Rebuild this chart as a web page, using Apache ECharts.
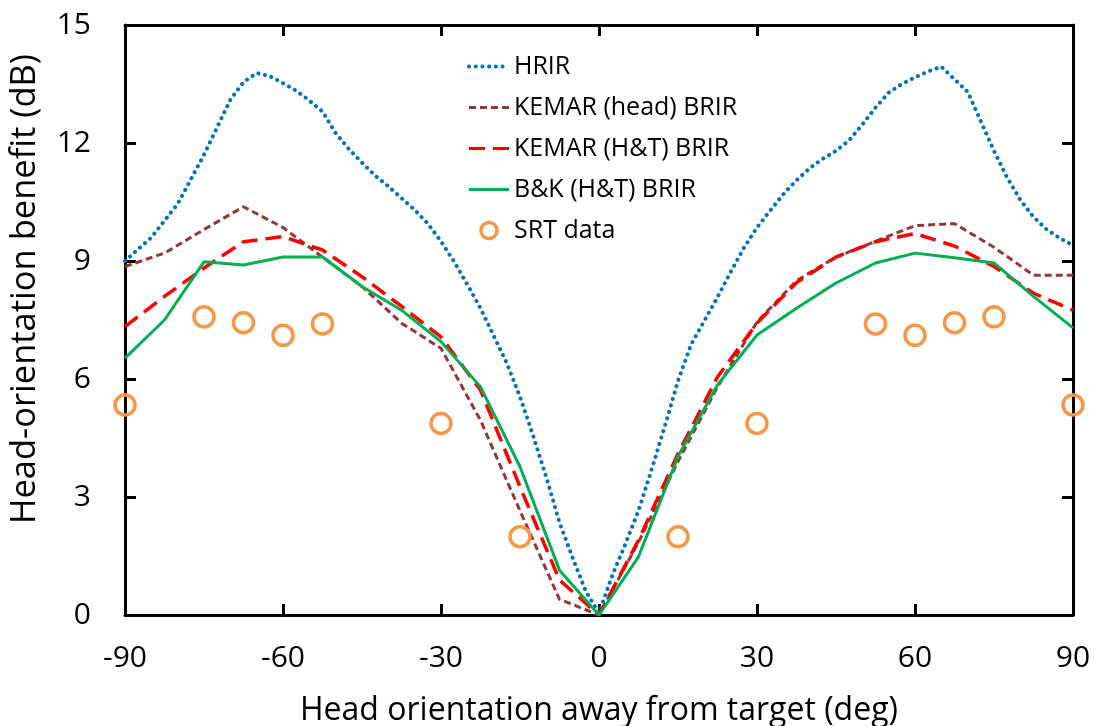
<!DOCTYPE html>
<html>
<head>
<meta charset="utf-8">
<script src="https://cdn.jsdelivr.net/npm/echarts@6/dist/echarts.min.js"></script>
<style>
  html, body { margin: 0; padding: 0; background: #fff; }
  #chart { width: 1101px; height: 726px; }
</style>
</head>
<body>
<div id="chart"></div>
<script>
// Head orientation (deg) for the HRIR curve
const hrirAngles = [-90, -85, -80, -75, -72.5, -70, -67.5, -65, -62.5, -60, -57.5, -55, -52.5, -50, -47.5, -45,
  -42.5, -40, -37.5, -35, -32.5, -30, -27.5, -25, -22.5, -20, -17.5, -15, -12.5, -10, -7.5, -5, -2.5, 0,
  2.5, 5, 7.5, 10, 12.5, 15, 17.5, 20, 22.5, 25, 27.5, 30, 32.5, 35, 37.5, 40, 42.5, 45, 47.5, 50,
  52.5, 55, 57.5, 60, 62.5, 65, 67.5, 70, 72.5, 75, 77.5, 80, 82.5, 85, 87.5, 90];
const hrirValues = [9.0, 9.6, 10.45, 11.7, 12.4, 13.1, 13.55, 13.78, 13.7, 13.52, 13.33, 13.08, 12.8, 12.25, 11.85, 11.5,
  11.17, 10.9, 10.6, 10.3, 9.95, 9.5, 8.98, 8.4, 7.8, 7.1, 6.4, 5.55, 4.55, 3.5, 2.35, 1.45, 0.6, 0.05,
  1.0, 1.8, 2.65, 3.7, 4.8, 5.95, 6.88, 7.48, 8.08, 8.72, 9.33, 9.85, 10.28, 10.7, 11.05, 11.36, 11.6, 11.8, 12.07, 12.47,
  12.9, 13.28, 13.5, 13.67, 13.82, 13.94, 13.62, 13.3, 12.55, 11.8, 11.12, 10.55, 10.12, 9.8, 9.58, 9.4];

// Head orientation (deg) for the BRIR curves
const brirAngles = [-90, -82.5, -75, -67.5, -60, -52.5, -45, -37.5, -30, -22.5, -15, -7.5, 0,
  7.5, 15, 22.5, 30, 37.5, 45, 52.5, 60, 67.5, 75, 82.5, 90];
const kemarHeadValues = [8.86, 9.2, 9.8, 10.38, 9.85, 9.1, 8.35, 7.42, 6.78, 4.95, 2.65, 0.4, 0,
  1.85, 3.9, 5.8, 7.45, 8.5, 9.1, 9.5, 9.9, 9.95, 9.35, 8.64, 8.64];
const kemarHTValues = [7.33, 8.1, 8.82, 9.49, 9.62, 9.28, 8.6, 7.85, 7.07, 5.72, 3.26, 0.89, 0,
  1.9, 4.1, 6.05, 7.42, 8.45, 9.1, 9.49, 9.7, 9.38, 8.86, 8.18, 7.75];
const bkHTValues = [6.53, 7.5, 8.98, 8.9, 9.1, 9.1, 8.35, 7.75, 6.95, 5.8, 3.77, 1.14, 0,
  1.48, 4.03, 5.85, 7.12, 7.8, 8.44, 8.95, 9.2, 9.08, 8.95, 8.1, 7.3];

// Speech reception threshold measurements
const srtAngles = [-90, -75, -67.5, -60, -52.5, -30, -15, 15, 30, 52.5, 60, 67.5, 75, 90];
const srtValues = [5.34, 7.58, 7.43, 7.11, 7.4, 4.87, 1.99, 1.99, 4.87, 7.4, 7.11, 7.43, 7.58, 5.34];

const xTicks = [-90, -60, -30, 0, 30, 60, 90];
const yTicks = [0, 3, 6, 9, 12, 15];

const seriesNames = ['HRIR', 'KEMAR (head) BRIR', 'KEMAR (H&T) BRIR', 'B&K (H&T) BRIR', 'SRT data'];

const pair = (xs, ys) => xs.map((x, i) => [x, ys[i]]);
const FONT = '"Open Sans", sans-serif';

const chart = echarts.init(document.getElementById('chart'), null, { renderer: 'canvas' });

const frameLine = { show: true, onZero: false, lineStyle: { color: '#000', width: 3 } };
const innerTick = { show: true, inside: true, length: 11, lineStyle: { color: '#000', width: 3 } };

// legend entries: line series show only their stroke, no marker
const legendData = seriesNames.map((name, i) =>
  i < 4
    ? { name, itemStyle: { opacity: 0 }, lineStyle: { width: i === 0 ? 4 : 3 } }
    : { name, itemStyle: { borderWidth: 3.5 } });

chart.setOption({
  backgroundColor: '#fff',
  animation: false,
  grid: { left: 125, right: 28, top: 25, bottom: 111, containLabel: false, outerBoundsMode: 'none' },
  legend: {
    orient: 'vertical',
    left: 462,
    top: 49,
    padding: 5,
    itemWidth: 40,
    itemHeight: 16,
    itemGap: 16,
    data: legendData,
    textStyle: { fontFamily: FONT, fontSize: 25, color: '#000' }
  },
  xAxis: [
    {
      type: 'value', min: xTicks[0], max: xTicks[xTicks.length - 1], interval: 30,
      position: 'bottom',
      axisLine: frameLine, axisTick: innerTick, splitLine: { show: false },
      axisLabel: { fontFamily: FONT, fontSize: 30, color: '#000', margin: 28 },
      name: 'Head orientation away from target (deg)',
      nameLocation: 'middle', nameGap: 80,
      nameTextStyle: { fontFamily: FONT, fontSize: 32, color: '#000' }
    },
    {
      type: 'value', min: xTicks[0], max: xTicks[xTicks.length - 1], interval: 30,
      position: 'top',
      axisLine: frameLine, axisTick: innerTick, splitLine: { show: false },
      axisLabel: { show: false }
    }
  ],
  yAxis: [
    {
      type: 'value', min: yTicks[0], max: yTicks[yTicks.length - 1], interval: 3,
      position: 'left',
      axisLine: frameLine, axisTick: innerTick, splitLine: { show: false },
      axisLabel: { fontFamily: FONT, fontSize: 30, color: '#000', margin: 34 }
    },
    {
      type: 'value', min: yTicks[0], max: yTicks[yTicks.length - 1], interval: 3,
      position: 'right',
      axisLine: frameLine, axisTick: innerTick, splitLine: { show: false },
      axisLabel: { show: false }
    }
  ],
  graphic: [{
    type: 'text',
    x: 25, y: 289,
    rotation: Math.PI / 2,
    style: {
      text: 'Head-orientation benefit (dB)',
      fontFamily: FONT, fontSize: 34.5, fill: '#000',
      align: 'center', verticalAlign: 'middle'
    }
  }],
  series: [
    {
      name: seriesNames[0], type: 'line', data: pair(hrirAngles, hrirValues),
      showSymbol: false, symbol: 'none', z: 3,
      itemStyle: { color: '#0070C0' },
      lineStyle: { color: '#0070C0', width: 4, type: [0.1, 6.6], cap: 'round' }
    },
    {
      name: seriesNames[1], type: 'line', data: pair(brirAngles, kemarHeadValues),
      showSymbol: false, symbol: 'none', z: 4,
      itemStyle: { color: '#953735' },
      lineStyle: { color: '#953735', width: 3, type: [7, 4] }
    },
    {
      name: seriesNames[2], type: 'line', data: pair(brirAngles, kemarHTValues),
      showSymbol: false, symbol: 'none', z: 5,
      itemStyle: { color: '#FF0000' },
      lineStyle: { color: '#FF0000', width: 3.5, type: [16, 8] }
    },
    {
      name: seriesNames[3], type: 'line', data: pair(brirAngles, bkHTValues),
      showSymbol: false, symbol: 'none', z: 6,
      itemStyle: { color: '#00B050' },
      lineStyle: { color: '#00B050', width: 3 }
    },
    {
      name: seriesNames[4], type: 'scatter', data: pair(srtAngles, srtValues),
      symbol: 'circle', symbolSize: 20, z: 7,
      itemStyle: { color: 'rgba(255,255,255,0)', borderColor: '#F79646', borderWidth: 3.5, opacity: 1 }
    }
  ]
});
</script>
</body>
</html>
